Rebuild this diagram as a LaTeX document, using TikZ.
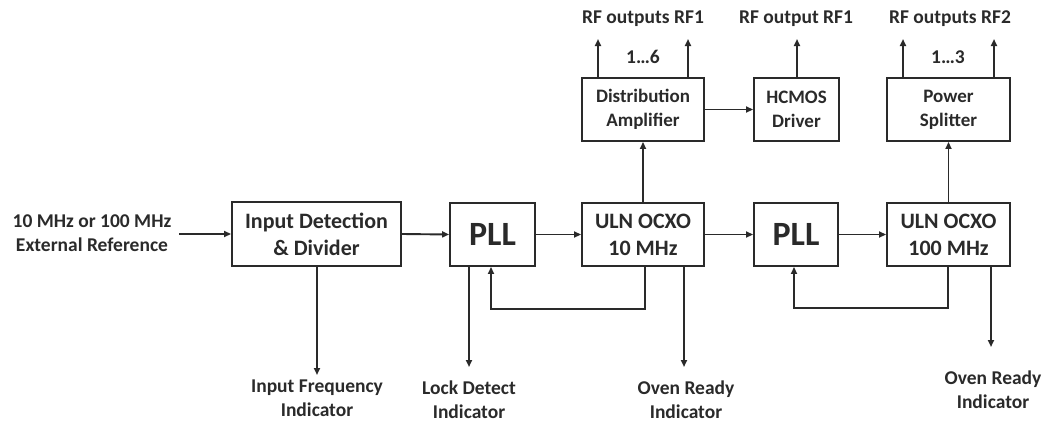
\documentclass[tikz,border=0pt]{standalone}
\usepackage{fontspec}
\setmainfont{Carlito}
\usetikzlibrary{arrows.meta,calc}
\definecolor{ink}{HTML}{2A2A2A}
\begin{document}
\begin{tikzpicture}[x=1pt,y=-1pt,
  box/.style={draw=ink,line width=1.9pt,text=ink,font=\bfseries\fontsize{19}{24}\selectfont,align=center,inner sep=0pt},
  bigbox/.style={box,font=\bfseries\fontsize{22}{27}\selectfont},
  pllbox/.style={box,font=\bfseries\fontsize{34}{38}\selectfont},
  lbl/.style={text=ink,font=\bfseries\fontsize{19.5}{24}\selectfont,align=center,inner sep=1pt},
  arr/.style={draw=ink,line width=1.9pt,-{Triangle[length=7pt,width=6pt]}}]
\useasboundingbox (0,0) rectangle (1042,423);
% boxes
\node[bigbox,minimum width=169pt,minimum height=64pt] (idd) at (316.5,234) {Input Detection\\\& Divider};
\node[pllbox,minimum width=85pt,minimum height=63pt] (pll1) at (492.5,234.5) {PLL};
\node[bigbox,minimum width=122pt,minimum height=63pt] (osc1) at (643,234.5) {ULN OCXO\\10 MHz};
\node[box,minimum width=122pt,minimum height=63pt] (dist) at (643,109.5) {Distribution\\Amplifier};
\node[box,minimum width=85pt,minimum height=63pt] (hcmos) at (796.5,109.5) {HCMOS\\Driver};
\node[pllbox,minimum width=84pt,minimum height=63pt] (pll2) at (796,234.5) {PLL};
\node[bigbox,minimum width=123pt,minimum height=63pt] (osc2) at (948.5,234.5) {ULN OCXO\\100 MHz};
\node[box,minimum width=123pt,minimum height=63pt] (split) at (948.5,109.5) {Power\\Splitter};
% labels
\node[lbl] (ext) at (92,233) {10 MHz or 100 MHz\\External Reference};
\node[lbl] (ifi) at (317,398) {Input Frequency\\Indicator};
\node[lbl] (ldi) at (469,400) {Lock Detect\\Indicator};
\node[lbl] (or1) at (686,400) {Oven Ready\\Indicator};
\node[lbl] (or2) at (993,390) {Oven Ready\\Indicator};
\node[lbl] (rf1) at (643,19) {RF outputs RF1};
\node[lbl] (n16) at (643,57) {1…6};
\node[lbl] (rf1b) at (796,19) {RF output RF1};
\node[lbl] (rf2) at (950,19) {RF outputs RF2};
\node[lbl] (n13) at (948,57) {1…3};
% coordinates
\coordinate (extend) at (179,234);
\coordinate (o1) at (598,39);
\coordinate (o2) at (688,39);
\coordinate (o3) at (797,39);
\coordinate (o4) at (903,39);
\coordinate (o5) at (994,39);
\coordinate (fb1a) at (645,309);
\coordinate (fb1b) at (491,309);
\coordinate (fb2a) at (948,308);
\coordinate (fb2b) at (794,308);
\coordinate (ld) at (469,367);
\coordinate (ov1) at (684,367);
\coordinate (ov2) at (991,347);
\coordinate (ifd) at (317,375);
% main chain
\draw[arr] (extend) -- (idd.west);
\draw[arr] (idd.east) -- (pll1.west);
\draw[arr] (pll1.east) -- (osc1.west);
\draw[arr] (osc1.east) -- (pll2.west);
\draw[arr] (pll2.east) -- (osc2.west);
% up
\draw[arr] (osc1.north) -- (dist.south);
\draw[arr] (osc2.north) -- (split.south);
\draw[arr] (dist.east) -- (hcmos.west);
\draw[arr] (dist.north -| o1) -- (o1);
\draw[arr] (dist.north -| o2) -- (o2);
\draw[arr] (hcmos.north -| o3) -- (o3);
\draw[arr] (split.north -| o4) -- (o4);
\draw[arr] (split.north -| o5) -- (o5);
% feedback
\draw[arr] (osc1.south -| fb1a) -- (fb1a) -- (fb1b) -- (pll1.south -| fb1b);
\draw[arr] (osc2.south -| fb2a) -- (fb2a) -- (fb2b) -- (pll2.south -| fb2b);
% down
\draw[arr] (idd.south -| ifd) -- (ifd);
\draw[arr] (pll1.south -| ld) -- (ld);
\draw[arr] (osc1.south -| ov1) -- (ov1);
\draw[arr] (osc2.south -| ov2) -- (ov2);
\end{tikzpicture}
\end{document}
